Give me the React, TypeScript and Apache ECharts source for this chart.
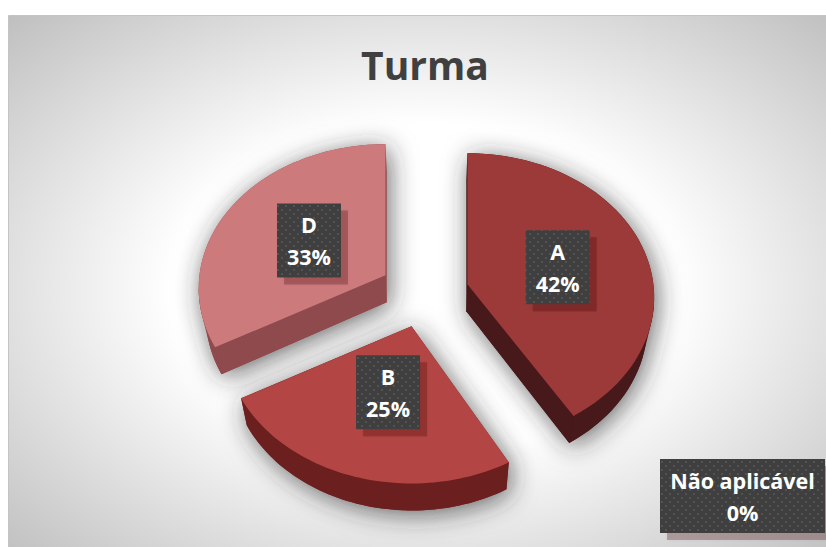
import React, { useEffect, useRef } from "react";
import * as echarts from "echarts";

const categories = ["A", "B", "D", "Não aplicável"];
const shares = [42, 25, 33, 0];
const percentLabels = ["42%", "25%", "33%", "0%"];
const topColors = ["#9b3a39", "#b34644", "#cd7a7d", "#888888"];
const wallColors = ["#47191a", "#6b201f", "#8f4a4d", "#888888"];
const cutColors = ["#47191a", "#6b201f", "#8f4a4d", "#888888"];
const perspectiveTrimDeg = [3, 0, 0, 0];

const CX = 424, CY = 293, EX = 44.8, EY = 34.7;
const RX = 186, RY = 143, K = 0.09, DEPTH = 27, SHRINK = 0.97, VANISH_X = 430;
const FONT = '"Open Sans", "Noto Sans", sans-serif';

function dotPattern(): any {
  const c = document.createElement("canvas");
  c.width = 8; c.height = 8;
  const g = c.getContext("2d")!;
  g.fillStyle = "#3f3f3f";
  g.fillRect(0, 0, 8, 8);
  g.fillStyle = "#525252";
  g.fillRect(1, 1, 2, 2);
  g.fillRect(5, 5, 2, 2);
  return { image: c, repeat: "repeat" };
}

const lower = (q: number[]) => [VANISH_X + (q[0] - VANISH_X) * SHRINK, q[1] + DEPTH];

function hull(points: number[][]) {
  const p = points.slice().sort((a, b) => a[0] - b[0] || a[1] - b[1]);
  const cross = (o: number[], a: number[], b: number[]) =>
    (a[0] - o[0]) * (b[1] - o[1]) - (a[1] - o[1]) * (b[0] - o[0]);
  const lo: number[][] = [];
  for (const q of p) {
    while (lo.length >= 2 && cross(lo[lo.length - 2], lo[lo.length - 1], q) <= 0) lo.pop();
    lo.push(q);
  }
  const up: number[][] = [];
  for (const q of p.slice().reverse()) {
    while (up.length >= 2 && cross(up[up.length - 2], up[up.length - 1], q) <= 0) up.pop();
    up.push(q);
  }
  return lo.slice(0, -1).concat(up.slice(0, -1));
}

function wall(edge: number[][], fill: string) {
  const out: any[] = [];
  let run: number[][] = [];
  const flush = () => {
    if (run.length > 1) {
      const shape = run.concat(run.slice().reverse().map(lower));
      out.push({ type: "polygon", shape: { points: shape }, style: { fill } });
    }
    run = [];
  };
  for (let i = 0; i < edge.length - 1; i++) {
    if (edge[i + 1][0] < edge[i][0]) {
      if (!run.length) run.push(edge[i]);
      run.push(edge[i + 1]);
    } else flush();
  }
  flush();
  return out;
}

function renderItem(params: any, api: any) {
  const i = params.dataIndex;
  const share = api.value(0);
  const total = shares.reduce((a, b) => a + b, 0);
  const before = shares.slice(0, i).reduce((a, b) => a + b, 0);
  const text = categories[i] + "\n" + percentLabels[i];
  const pattern = dotPattern();

  const box = (cx: number, cy: number, w: number, h: number) => [
    { type: "rect", shape: { x: cx - w / 2 + 7, y: cy - h / 2 + 7, width: w, height: h }, style: { fill: "rgba(60,20,20,0.25)", shadowBlur: 3, shadowColor: "rgba(60,20,20,0.25)" } },
    { type: "rect", shape: { x: cx - w / 2, y: cy - h / 2, width: w, height: h }, style: { fill: pattern } },
    {
      type: "text",
      style: {
        x: cx, y: cy, text, fill: "#ffffff", font: `700 21.5px ${FONT}`,
        align: "center", verticalAlign: "middle", lineHeight: 32,
      },
    },
  ];

  if (share === 0) {
    return { type: "group", children: box(742.5, 496, 165, 74) };
  }

  const a0 = (before / total) * Math.PI * 2;
  const a1 = ((before + share) / total) * Math.PI * 2;
  const mid = (a0 + a1) / 2;
  const drawnEnd = a1 - (perspectiveTrimDeg[i] * Math.PI) / 180;
  const ax = CX + EX * Math.sin(mid);
  const ay = CY - EY * Math.cos(mid);
  const project = (u: number, v: number) => {
    const s = 1 / (1 - K * v);
    return [ax + RX * u * s, ay + RY * v * s];
  };
  const arc: number[][] = [];
  const n = 60;
  for (let t = 0; t <= n; t++) {
    const a = a0 + ((drawnEnd - a0) * t) / n;
    arc.push(project(Math.sin(a), -Math.cos(a)));
  }
  const apex = [ax, ay];
  const outline = [apex, ...arc];
  const silhouette = hull(outline.concat(outline.map(lower)));

  const children: any[] = [
    {
      type: "polygon",
      shape: { points: silhouette },
      style: { fill: wallColors[i], shadowBlur: 26, shadowColor: "rgba(40,40,40,0.7)", shadowOffsetX: 3, shadowOffsetY: 4 },
    },
    ...wall([apex, arc[0]], cutColors[i]),
    ...wall(arc, wallColors[i]),
    ...wall([arc[n], apex], cutColors[i]),
    { type: "polygon", shape: { points: outline }, style: { fill: topColors[i] } },
    ...box(ax + RX * 0.49 * Math.sin(mid) + 2, ay - 140 * 0.49 * Math.cos(mid), 64, 74),
  ];
  return { type: "group", children };
}

export default function App() {
  const ref = useRef<HTMLDivElement>(null);
  useEffect(() => {
    const chart = echarts.init(ref.current!, null, { renderer: "svg" });
    chart.setOption({
      animation: false,
      backgroundColor: "#ffffff",
      title: {
        text: "Turma", left: 420, top: 40, textAlign: "center",
        textStyle: { fontFamily: FONT, fontSize: 39, fontWeight: 700, color: "#404040" },
      },
      graphic: [
        {
          type: "rect", z: -10,
          shape: { x: 8.5, y: 15.5, width: 830, height: 545 },
          style: {
            fill: {
              type: "radial", x: 0.5, y: 0.5, r: 0.72,
              colorStops: [
                { offset: 0, color: "#ffffff" },
                { offset: 0.42, color: "#ffffff" },
                { offset: 1, color: "#bdbdbd" },
              ],
            },
            stroke: "#c4c4c4", lineWidth: 1,
          },
        },
      ],
      series: [
        {
          type: "custom",
          coordinateSystem: "none",
          renderItem,
          data: shares.map((s) => [s]),
          silent: true,
        },
      ],
    });
    return () => chart.dispose();
  }, []);
  return <div ref={ref} style={{ position: "absolute", left: 0, top: 0, width: 826, height: 547 }} />;
}
